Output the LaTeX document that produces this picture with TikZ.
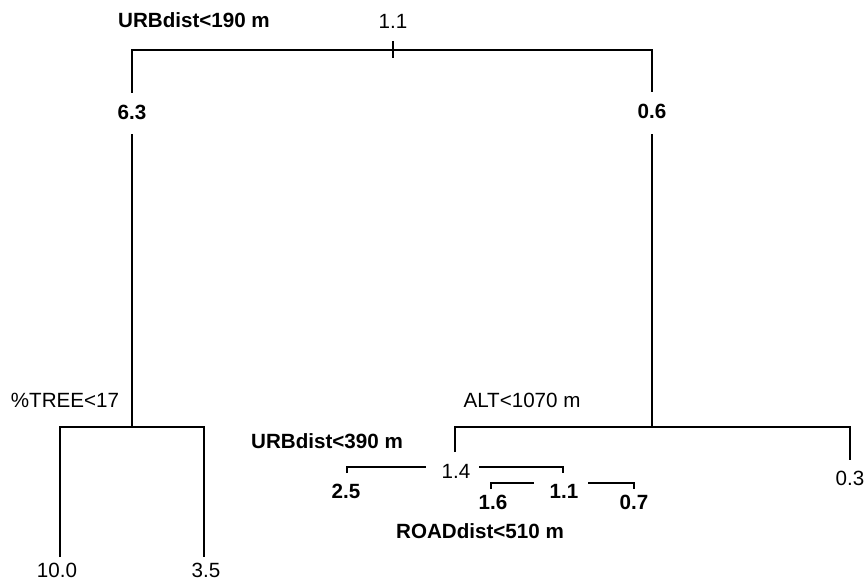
\documentclass[tikz,border=0pt]{standalone}
\usepackage{fontspec}
\setmainfont{Liberation Sans}
\begin{document}
\begin{tikzpicture}[x=1pt,y=-1pt,
  lbl/.style={anchor=base,inner sep=0pt,font=\fontsize{20.6}{24}\selectfont},
  blbl/.style={lbl,font=\fontsize{20.6}{24}\selectfont\bfseries},
  br/.style={line width=1.6pt,line cap=butt}]
\useasboundingbox[fill=white] (0,0) rectangle (866,583);
% labels
\node[blbl] (c1) at (194,28) {URBdist<190 m};
\node[lbl] (root) at (393,29) {1.1};
\node[blbl] (n63) at (132,119) {6.3};
\node[blbl] (n06) at (652,118) {0.6};
\node[lbl] (c2) at (65,407) {\%TREE<17};
\node[lbl] (l100) at (57,577) {10.0};
\node[lbl] (l35) at (206,577) {3.5};
\node[lbl] (c3) at (522,407) {ALT<1070 m};
\node[blbl] (c4) at (327,448) {URBdist<390 m};
\node[lbl] (n14) at (456,478) {1.4};
\node[blbl] (l25) at (346,498) {2.5};
\node[blbl] (n11) at (564,498) {1.1};
\node[blbl] (l16) at (493,509) {1.6};
\node[blbl] (l07) at (634,509) {0.7};
\node[blbl] (c5) at (480,538) {ROADdist<510 m};
\node[lbl] (l03) at (850,485) {0.3};
% coordinates
\coordinate (a1) at (132,93);
\coordinate (a2) at (652,92);
\coordinate (t1) at (393,41);
\coordinate (t2) at (393,58);
\coordinate (b1) at (132,134);
\coordinate (b2) at (132,427);
\coordinate (b3) at (652,134);
\coordinate (b4) at (652,427);
\coordinate (d1) at (60,557);
\coordinate (d2) at (204,557);
\coordinate (e1) at (455,452);
\coordinate (e2) at (850,460);
\coordinate (f1) at (347,473);
\coordinate (f2) at (426,467);
\coordinate (f3) at (479,467);
\coordinate (f4) at (563,473);
\coordinate (g1) at (491,489);
\coordinate (g2) at (534,483);
\coordinate (g3) at (588,483);
\coordinate (g4) at (634,489);
% branches
\draw[br] (a1) |- (a2 |- 0,50) -- (a2);
\draw[br] (t1) -- (t2);
\draw[br] (b1) -- (b2);
\draw[br] (b3) -- (b4);
\draw[br] (d1) |- (b2) -| (d2);
\draw[br] (e1) |- (b4) -| (e2);
\draw[br] (f1) |- (f2);
\draw[br] (f3) -| (f4);
\draw[br] (g1) |- (g2);
\draw[br] (g3) -| (g4);
\end{tikzpicture}
\end{document}
